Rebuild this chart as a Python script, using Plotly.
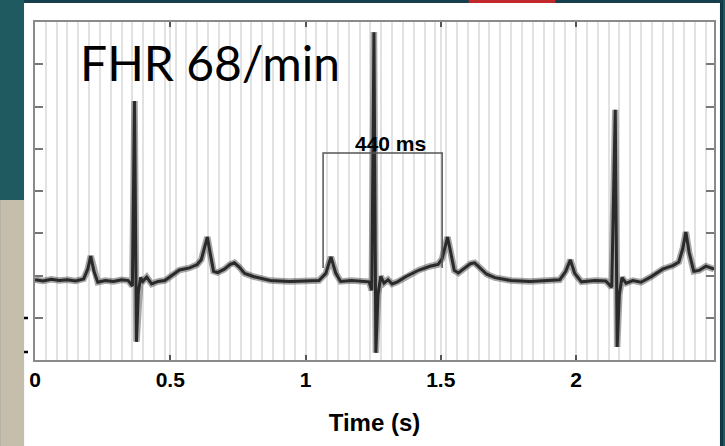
import plotly.graph_objects as go

# ---- data ----
time_s = [0, 0.03, 0.06, 0.09, 0.12, 0.15, 0.18, 0.195, 0.206, 0.218, 0.232, 0.26, 0.29, 0.32, 0.345,
          0.360, 0.368, 0.375, 0.382, 0.390, 0.398, 0.413, 0.431, 0.455, 0.48, 0.51, 0.534, 0.571,
          0.600, 0.615, 0.627, 0.637, 0.647, 0.66, 0.675, 0.70, 0.72, 0.737, 0.755, 0.775, 0.81, 0.87,
          0.94, 1.00, 1.05, 1.075, 1.094, 1.112, 1.13, 1.17, 1.21, 1.235, 1.245, 1.253, 1.260, 1.268,
          1.278, 1.290, 1.305, 1.32, 1.34, 1.37, 1.42, 1.46, 1.49, 1.505, 1.515, 1.525, 1.535, 1.55,
          1.565, 1.59, 1.61, 1.625, 1.645, 1.67, 1.70, 1.76, 1.83, 1.90, 1.94, 1.962, 1.979, 1.995,
          2.02, 2.07, 2.11, 2.132, 2.145, 2.152, 2.160, 2.170, 2.185, 2.21, 2.24, 2.28, 2.32, 2.36,
          2.38, 2.395, 2.406, 2.418, 2.435, 2.455, 2.48, 2.51]
amplitude = [1.90, 1.87, 1.91, 1.88, 1.90, 1.87, 1.92, 2.15, 2.46, 2.10, 1.84, 1.88, 1.86, 1.90, 1.88,
             1.75, 6.13, 0.43, 1.60, 1.95, 1.86, 1.96, 1.80, 1.86, 1.88, 2.02, 2.13, 2.18,
             2.26, 2.38, 2.68, 2.91, 2.55, 2.10, 2.07, 2.15, 2.26, 2.30, 2.20, 2.05, 1.97, 1.88,
             1.86, 1.88, 1.88, 2.05, 2.44, 2.05, 1.86, 1.88, 1.87, 1.85, 1.65, 7.76, 0.17, 1.55,
             1.98, 1.82, 1.90, 1.80, 1.85, 1.97, 2.13, 2.22, 2.26, 2.40, 2.65, 2.91, 2.60, 2.12,
             2.06, 2.18, 2.28, 2.30, 2.18, 2.03, 1.95, 1.88, 1.86, 1.88, 1.90, 2.10, 2.37, 2.05,
             1.85, 1.88, 1.87, 1.72, 5.92, 0.31, 1.55, 1.95, 1.82, 1.88, 1.84, 1.98, 2.15, 2.24,
             2.32, 2.65, 3.03, 2.55, 2.10, 2.12, 2.22, 2.15]

x_tick_vals = [0, 0.5, 1, 1.5, 2]
x_tick_text = ["0", "0.5", "1", "1.5", "2"]
y_tick_vals = [1, 2, 3, 4, 5, 6, 7]

interval_start = 1.065
interval_end = 1.505
interval_top = 4.90
interval_bottom = 2.18
interval_label = "440 ms"
rate_label = "FHR 68/min"

# ---- layout geometry (pixels) ----
W, H = 725, 446
ML, MR, MT, MB = 35, 9, 22, 86
PW, PH = W - ML - MR, H - MT - MB

def px(x):
    return (x - ML) / PW

def py(y):
    return (H - MB - y) / PH

fig = go.Figure()
fig.add_trace(go.Scatter(x=time_s, y=amplitude, mode="lines",
                         line=dict(color="rgba(60,60,60,0.45)", width=6.5),
                         hoverinfo="skip", showlegend=False))
fig.add_trace(go.Scatter(x=time_s, y=amplitude, mode="lines",
                         line=dict(color="#2a2a2a", width=3),
                         showlegend=False))

shapes = []
# white slide panel and background decorations
shapes.append(dict(type="rect", xref="paper", yref="paper", x0=px(24), x1=px(722), y0=py(446), y1=py(3),
                   fillcolor="white", line=dict(width=0), layer="below"))
shapes.append(dict(type="rect", xref="paper", yref="paper", x0=px(0), x1=px(24), y0=py(446), y1=py(200),
                   fillcolor="#c6bead", line=dict(width=0), layer="below"))
shapes.append(dict(type="rect", xref="paper", yref="paper", x0=px(722), x1=px(725), y0=py(446), y1=py(0),
                   fillcolor="#123848", line=dict(width=0), layer="below"))
shapes.append(dict(type="rect", xref="paper", yref="paper", x0=px(24), x1=px(725), y0=py(3), y1=py(0),
                   fillcolor="#153f4c", line=dict(width=0), layer="below"))
shapes.append(dict(type="rect", xref="paper", yref="paper", x0=px(470), x1=px(557), y0=py(3), y1=py(0),
                   fillcolor="#c0282a", line=dict(width=0), layer="below"))
for yy in (318, 352):
    shapes.append(dict(type="line", xref="paper", yref="paper", x0=px(24), x1=px(28), y0=py(yy), y1=py(yy),
                       line=dict(color="black", width=2.5)))
# interval bracket
shapes.append(dict(type="path", xref="x", yref="y",
                   path=f"M {interval_start},{interval_bottom} L {interval_start},{interval_top} "
                        f"L {interval_end},{interval_top} L {interval_end},{interval_bottom}",
                   line=dict(color="#555555", width=1.5)))

fig.update_layout(
    width=W, height=H,
    margin=dict(l=ML, r=MR, t=MT, b=MB, pad=0),
    paper_bgcolor="#1f5a60",
    plot_bgcolor="white",
    shapes=shapes,
    font=dict(family="Liberation Sans, Arial, sans-serif", color="black"),
    xaxis=dict(range=[0, 2.51], tickvals=x_tick_vals, ticktext=x_tick_text,
               ticks="inside", ticklen=5, tickwidth=2, tickcolor="#555555",
               tickfont=dict(size=21, family="Liberation Sans, Arial", weight="bold"),
               ticklabelstandoff=0,
               showline=True, linecolor="#8a8a8a", linewidth=2, mirror="ticks",
               showgrid=True, gridcolor="#e2e2e2", gridwidth=1.5,
               minor=dict(dtick=0.04, tick0=0, showgrid=True, gridcolor="#e2e2e2", gridwidth=1.5, ticks=""),
               zeroline=False,
               title=dict(text="Time (s)", font=dict(size=24, family="Liberation Sans, Arial", weight="bold"),
                          standoff=24)),
    yaxis=dict(range=[0, 8], tickvals=y_tick_vals, showticklabels=False,
               ticks="inside", ticklen=8, tickwidth=1.5, tickcolor="#777777",
               showline=True, linecolor="#8a8a8a", linewidth=2, mirror="ticks",
               showgrid=False, zeroline=False),
    annotations=[
        dict(text=rate_label, xref="paper", yref="paper", x=px(78), y=py(62), xanchor="left", yanchor="middle",
             showarrow=False, font=dict(size=48, family="Lato, Open Sans, sans-serif", color="black")),
        dict(text=interval_label, xref="x", yref="y", x=(interval_start + interval_end) / 2 + 0.03,
             y=interval_top, xanchor="center", yanchor="bottom", yshift=-4,
             showarrow=False, font=dict(size=21, family="Liberation Sans, Arial", weight="bold", color="black")),
    ],
)

fig.write_html("out.html")
